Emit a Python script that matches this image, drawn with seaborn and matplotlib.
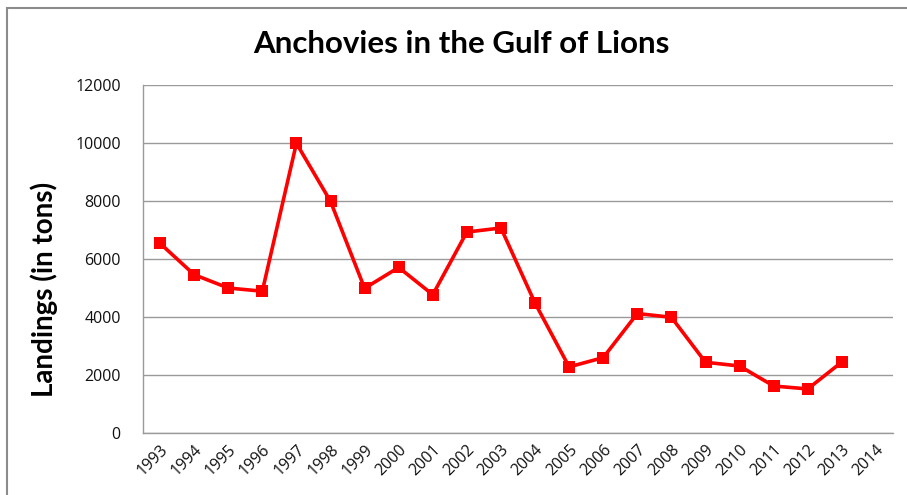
import matplotlib
matplotlib.use("Agg")
import matplotlib.pyplot as plt
from matplotlib.patches import Rectangle
import seaborn as sns
import pandas as pd
import numpy as np

# Annual anchovy landings, Gulf of Lions (tons)
years = [1993, 1994, 1995, 1996, 1997, 1998, 1999, 2000, 2001, 2002, 2003,
         2004, 2005, 2006, 2007, 2008, 2009, 2010, 2011, 2012, 2013]
landings = [6550, 5470, 5010, 4900, 10000, 8000, 5000, 5720, 4780, 6940, 7080,
            4490, 2290, 2610, 4130, 4000, 2450, 2320, 1630, 1530, 2460]
tick_years = list(range(1993, 2015))
y_ticks = [0, 2000, 4000, 6000, 8000, 10000, 12000]

title = "Anchovies in the Gulf of Lions"
y_label = "Landings (in tons)"

sns.set_theme(style="white")
plt.rcParams["font.family"] = ["Open Sans", "DejaVu Sans"]

df = pd.DataFrame({"year": years, "landings": landings})

fig = plt.figure(figsize=(9.07, 4.95), dpi=100)
ax = fig.add_axes([143 / 907, 1 - 433.3 / 495, (893 - 143) / 907, (433.3 - 85.3) / 495])

sns.lineplot(data=df, x="year", y="landings", ax=ax, color="#ff0000",
             linewidth=2.6, marker="s", markersize=8.5, markeredgecolor="#ff0000",
             markeredgewidth=0)

ax.set_xlim(1992.5, 2014.5)
ax.set_ylim(0, 12000)
ax.set_yticks(y_ticks)
ax.set_yticklabels([str(v) for v in y_ticks], fontsize=11.5, color="#111111")
ax.set_xticks(tick_years)
ax.set_xticklabels([str(y) for y in tick_years], rotation=45, ha="right",
                   rotation_mode="anchor", fontsize=11.5, color="#111111")
ax.tick_params(axis="both", length=0, pad=6)
ax.tick_params(axis="y", pad=16)
ax.set_xlabel("")
ax.set_ylabel("")

ax.yaxis.grid(True, color="#9a9a9a", linewidth=1.0)
ax.set_axisbelow(True)
for side in ("top", "right"):
    ax.spines[side].set_visible(False)
for side in ("left", "bottom"):
    ax.spines[side].set_color("#9a9a9a")
    ax.spines[side].set_linewidth(1.0)

fig.text(461 / 907, 1 - 44 / 495, title, ha="center", va="center",
         fontsize=22.5, fontweight="bold", color="black",
         family=["Lato", "DejaVu Sans"])
fig.text(44 / 907, 1 - 289 / 495, y_label, ha="center", va="center",
         rotation=90, fontsize=20, fontweight="bold", color="black",
         family=["Lato", "DejaVu Sans"])

# chart frame
fig.patches.append(Rectangle((7 / 907, -0.1), 1.2, 1 - 8 / 495 + 0.1,
                             transform=fig.transFigure, fill=False,
                             edgecolor="#8c8c8c", linewidth=1.5))

fig.savefig("out.png", dpi=100)
